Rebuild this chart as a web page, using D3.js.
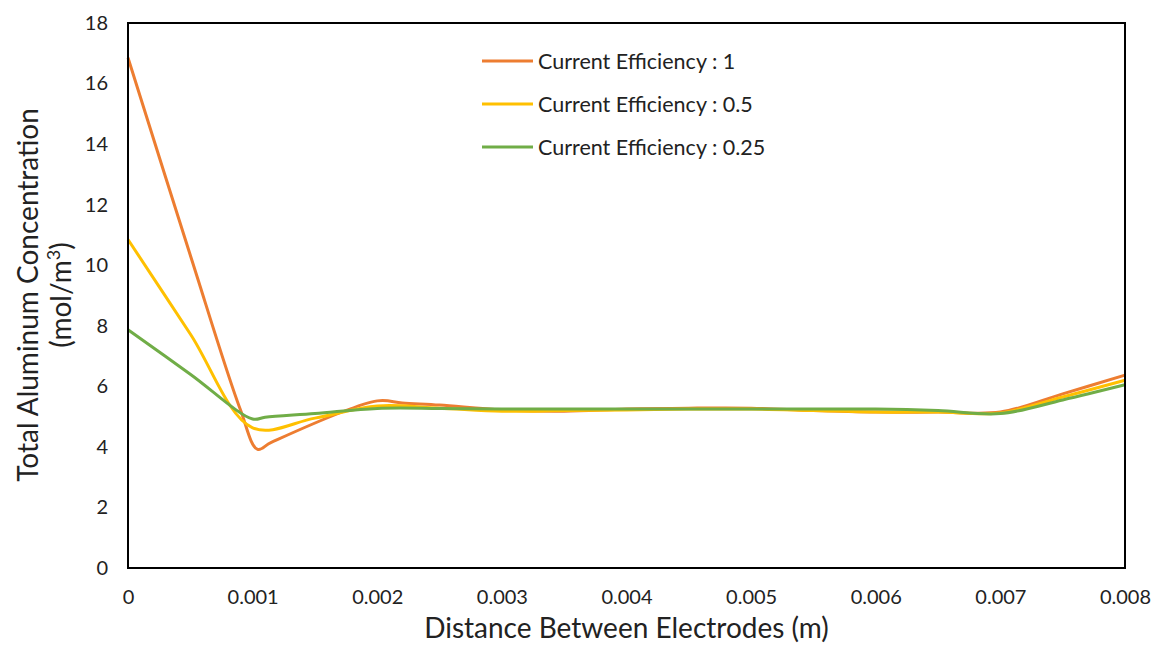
<!DOCTYPE html>
<html>
<head>
<meta charset="utf-8">
<script src="https://cdn.jsdelivr.net/npm/d3@7"></script>
<style>
  body { margin: 0; background: #fff; }
  text { font-family: Lato, "Open Sans", sans-serif; fill: #222; }
</style>
</head>
<body>
<div id="chart"></div>
<script>
// values
const seriesNames = ["Current Efficiency : 1", "Current Efficiency : 0.5", "Current Efficiency : 0.25"];
const seriesColors = ["#ED7D31", "#FFC000", "#70AD47"];

const effOneX = [0, 0.0005, 0.0009, 0.00104, 0.00115, 0.002, 0.0022, 0.0025, 0.003, 0.0035, 0.004, 0.0045, 0.005, 0.0055, 0.006, 0.0065, 0.007, 0.0075, 0.008];
const effOneY = [16.85, 10.33, 5.25, 3.92, 4.15, 5.52, 5.45, 5.38, 5.22, 5.18, 5.25, 5.28, 5.28, 5.2, 5.15, 5.15, 5.15, 5.75, 6.37];

const effHalfX = [0, 0.0005, 0.001, 0.0015, 0.002, 0.0025, 0.003, 0.0035, 0.004, 0.0045, 0.005, 0.0055, 0.006, 0.0065, 0.007, 0.0075, 0.008];
const effHalfY = [10.85, 7.73, 4.63, 4.95, 5.35, 5.28, 5.18, 5.2, 5.22, 5.25, 5.25, 5.2, 5.15, 5.15, 5.12, 5.65, 6.2];

const effQuarterX = [0, 0.0005, 0.001, 0.0011, 0.0015, 0.002, 0.0025, 0.003, 0.0035, 0.004, 0.0045, 0.005, 0.0055, 0.006, 0.0065, 0.007, 0.0075, 0.008];
const effQuarterY = [7.87, 6.4, 4.92, 4.98, 5.1, 5.27, 5.27, 5.25, 5.25, 5.25, 5.25, 5.25, 5.25, 5.25, 5.2, 5.1, 5.55, 6.05];

const xTicks = [0, 0.001, 0.002, 0.003, 0.004, 0.005, 0.006, 0.007, 0.008];
const yTicks = [0, 2, 4, 6, 8, 10, 12, 14, 16, 18];

const dimensions = {
  width: 1153,
  height: 645,
  margin: { top: 23, right: 28, bottom: 77, left: 128 },
};
dimensions.boundedWidth = dimensions.width - dimensions.margin.left - dimensions.margin.right;
dimensions.boundedHeight = dimensions.height - dimensions.margin.top - dimensions.margin.bottom;

const svg = d3.select("#chart")
  .append("svg")
  .attr("width", dimensions.width)
  .attr("height", dimensions.height);

const bounds = svg.append("g")
  .attr("transform", `translate(${dimensions.margin.left},${dimensions.margin.top})`);

const xScale = d3.scaleLinear().domain([0, 0.008]).range([0, dimensions.boundedWidth]);
const yScale = d3.scaleLinear().domain([0, 18]).range([dimensions.boundedHeight, 0]);

// axes (labels only, no tick marks)
const xAxis = bounds.append("g")
  .attr("transform", `translate(0,${dimensions.boundedHeight})`)
  .call(d3.axisBottom(xScale).tickValues(xTicks).tickSize(0).tickPadding(22)
    .tickFormat(d => d === 0 ? "0" : d3.format(".3f")(d)));
xAxis.select(".domain").remove();
xAxis.selectAll("text").style("font-size", "20px").attr("fill", "#222");

const yAxis = bounds.append("g")
  .call(d3.axisLeft(yScale).tickValues(yTicks).tickSize(0).tickPadding(20));
yAxis.select(".domain").remove();
yAxis.selectAll("text").style("font-size", "20px").attr("fill", "#222");

// series
const series = [
  { xs: effOneX, ys: effOneY },
  { xs: effHalfX, ys: effHalfY },
  { xs: effQuarterX, ys: effQuarterY },
];
const lineGen = d3.line()
  .x(d => xScale(d[0]))
  .y(d => yScale(d[1]))
  .curve(d3.curveCatmullRom.alpha(0.5));

series.forEach((s, i) => {
  const pts = s.xs.map((x, j) => [x, s.ys[j]]);
  bounds.append("path")
    .attr("d", lineGen(pts))
    .attr("fill", "none")
    .attr("stroke", seriesColors[i])
    .attr("stroke-width", 3)
    .attr("stroke-linejoin", "round");
});

// plot frame
bounds.append("rect")
  .attr("width", dimensions.boundedWidth)
  .attr("height", dimensions.boundedHeight)
  .attr("fill", "none")
  .attr("stroke", "#000")
  .attr("stroke-width", 2);

// legend
const legend = svg.append("g").attr("transform", "translate(482,61)");
seriesNames.forEach((name, i) => {
  const row = legend.append("g").attr("transform", `translate(0,${i * 43})`);
  row.append("line")
    .attr("x1", 0).attr("x2", 51)
    .attr("stroke", seriesColors[i])
    .attr("stroke-width", 3);
  row.append("text")
    .attr("x", 56)
    .attr("dy", "0.35em")
    .style("font-size", "21.5px")
    .text(name);
});

// axis titles
svg.append("text")
  .attr("x", dimensions.margin.left + dimensions.boundedWidth / 2)
  .attr("y", 638)
  .attr("text-anchor", "middle")
  .style("font-size", "28px")
  .text("Distance Between Electrodes (m)");

const yTitle = svg.append("text")
  .attr("transform", "translate(0,295) rotate(-90)")
  .attr("text-anchor", "middle")
  .style("font-size", "28px");
yTitle.append("tspan").attr("x", 0).attr("y", 38).text("Total Aluminum Concentration");
const unit = yTitle.append("tspan").attr("x", 0).attr("y", 71);
unit.append("tspan").text("(mol/m");
unit.append("tspan").attr("dy", -11).style("font-size", "18px").text("3");
unit.append("tspan").attr("dy", 11).text(")");
</script>
</body>
</html>
